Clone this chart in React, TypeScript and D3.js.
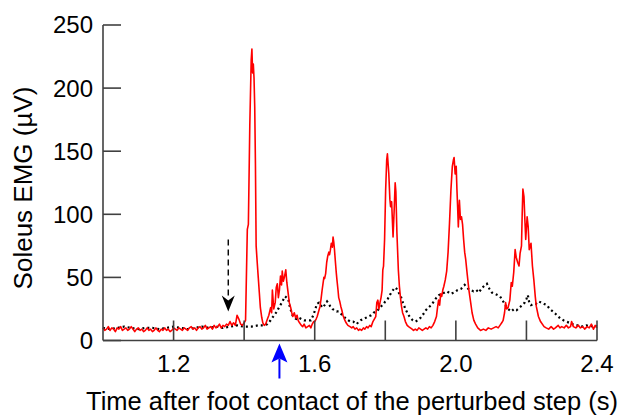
import React from "react";
import * as d3 from "d3";

// ---- Data ----
const redTime = [
  1.000, 1.005, 1.010, 1.015, 1.020, 1.025, 1.030, 1.035, 1.040, 1.045, 1.050, 1.055, 1.060, 1.065, 1.070, 1.075, 1.080, 1.085, 1.090, 1.095,
  1.100, 1.105, 1.110, 1.115, 1.120, 1.125, 1.130, 1.135, 1.140, 1.145, 1.150, 1.155, 1.160, 1.165, 1.170, 1.175, 1.180, 1.185, 1.190, 1.195,
  1.200, 1.205, 1.210, 1.215, 1.220, 1.225, 1.230, 1.235, 1.240, 1.245, 1.250, 1.255, 1.260, 1.265, 1.270, 1.275, 1.280, 1.285, 1.290, 1.295,
  1.300, 1.305, 1.310, 1.315, 1.320, 1.325, 1.330, 1.335, 1.340, 1.345, 1.350, 1.355, 1.360, 1.365, 1.370, 1.375, 1.380, 1.385, 1.390, 1.395,
  1.400, 1.404, 1.409, 1.412, 1.416, 1.420, 1.422, 1.424, 1.426, 1.428, 1.430, 1.432, 1.434, 1.437, 1.440, 1.443, 1.446, 1.450, 1.453, 1.457,
  1.461, 1.466, 1.470, 1.475, 1.478, 1.480, 1.484, 1.488, 1.491, 1.494, 1.497, 1.500, 1.503, 1.506, 1.508, 1.511, 1.514, 1.518, 1.521, 1.525,
  1.528, 1.532, 1.535, 1.538, 1.542, 1.546, 1.550, 1.553, 1.557, 1.562, 1.566, 1.570, 1.575, 1.580, 1.585, 1.589, 1.593, 1.597, 1.600,
  1.604, 1.607, 1.611, 1.615, 1.618, 1.621, 1.624, 1.626, 1.628, 1.631, 1.634, 1.637, 1.640, 1.642, 1.644, 1.647, 1.650, 1.652, 1.654, 1.656,
  1.659, 1.661, 1.663, 1.666, 1.668, 1.671, 1.674, 1.677, 1.680, 1.684, 1.689, 1.694, 1.700, 1.705, 1.709, 1.714, 1.719, 1.724, 1.728, 1.733,
  1.738, 1.742, 1.747, 1.751, 1.756, 1.760, 1.765, 1.769, 1.773, 1.776, 1.779, 1.782, 1.785, 1.788, 1.791, 1.793, 1.795, 1.798, 1.801, 1.804,
  1.806, 1.808, 1.810, 1.813, 1.815, 1.818, 1.820, 1.822, 1.825, 1.828, 1.830, 1.833, 1.837, 1.840, 1.843, 1.846, 1.849, 1.853, 1.857, 1.862,
  1.866, 1.871, 1.876, 1.880, 1.885, 1.890, 1.895, 1.900, 1.905, 1.910, 1.915, 1.920, 1.925, 1.930, 1.935, 1.940, 1.945, 1.948, 1.951, 1.954,
  1.957, 1.960, 1.963, 1.966, 1.970, 1.974, 1.978, 1.982, 1.986, 1.990, 1.993, 1.995, 1.998, 2.001, 2.003, 2.005, 2.007, 2.010, 2.013, 2.016,
  2.019, 2.022, 2.025, 2.028, 2.032, 2.037, 2.042, 2.046, 2.051, 2.056, 2.062, 2.070, 2.078, 2.085, 2.092, 2.100, 2.107, 2.114, 2.120, 2.125,
  2.130, 2.134, 2.138, 2.141, 2.144, 2.148, 2.153, 2.157, 2.160, 2.164, 2.168, 2.171, 2.175, 2.179, 2.182, 2.186, 2.188, 2.190, 2.193, 2.196,
  2.198, 2.202, 2.205, 2.208, 2.213, 2.217, 2.221, 2.225, 2.228, 2.234, 2.240, 2.250, 2.256, 2.263, 2.270, 2.277, 2.282, 2.290, 2.295, 2.300,
  2.307, 2.313, 2.319, 2.325, 2.328, 2.333, 2.340, 2.347, 2.353, 2.360, 2.365, 2.372, 2.378, 2.384, 2.390, 2.395, 2.400,
];
const redValue = [
  10, 8, 9, 11, 8, 10, 9, 7, 10, 9, 11, 8, 9, 10, 8, 9, 11, 9, 7, 9,
  10, 8, 9, 7, 8, 10, 8, 9, 7, 8, 10, 8, 7, 9, 8, 10, 8, 9, 7, 8,
  10, 9, 8, 10, 9, 8, 10, 9, 8, 10, 11, 9, 10, 8, 10, 11, 9, 10, 12, 9,
  10, 11, 9, 12, 10, 11, 13, 10, 12, 11, 13, 12, 15, 12, 14, 12, 20, 17, 13, 12,
  14, 16, 88, 92, 170, 222, 231, 212, 219, 208, 185, 140, 75, 62, 50, 38, 26, 18, 14, 12,
  13, 17, 20, 26, 22, 40, 25, 30, 42, 45, 34, 40, 51, 44, 55, 47, 50, 56, 46, 37,
  30, 26, 22, 19, 22, 18, 20, 16, 14, 12, 11, 13, 10, 11, 12, 10, 13, 15, 15,
  17, 19, 23, 27, 33, 40, 46, 50, 49, 53, 62, 67, 70, 68, 71, 77, 74, 82, 78, 72,
  61, 54, 48, 40, 34, 31, 27, 24, 20, 17, 14, 12, 11, 10, 11, 9, 10, 8, 9, 8,
  10, 9, 11, 10, 12, 11, 15, 17, 19, 30, 32, 25, 30, 34, 40, 56, 59, 80, 119, 143,
  148, 140, 132, 112, 106, 110, 96, 82, 102, 125, 118, 85, 56, 43, 34, 27, 22, 19, 15, 12,
  11, 10, 9, 8, 9, 8, 10, 9, 8, 9, 10, 9, 11, 10, 12, 15, 19, 26, 32, 28,
  37, 35, 40, 43, 48, 55, 70, 93, 119, 138, 143, 145, 132, 138, 120, 106, 90, 111, 96, 98,
  92, 80, 70, 64, 53, 40, 30, 22, 16, 13, 10, 8, 9, 8, 10, 9, 10, 11, 10, 12,
  14, 16, 22, 30, 25, 26, 32, 46, 43, 54, 72, 66, 62, 59, 69, 75, 100, 120, 114, 93,
  80, 98, 90, 72, 77, 59, 48, 35, 27, 19, 15, 11, 10, 9, 11, 9, 10, 12, 10, 11,
  10, 12, 10, 11, 15, 11, 10, 12, 10, 11, 9, 11, 10, 13, 9, 12, 10,
];

const blackTime = [
  1.00, 1.02, 1.04, 1.06, 1.08, 1.10, 1.12, 1.14, 1.16, 1.18, 1.20, 1.22, 1.24, 1.26, 1.28, 1.30, 1.32, 1.34, 1.36, 1.38,
  1.40, 1.42, 1.44, 1.457, 1.466, 1.475, 1.485, 1.493, 1.500, 1.507, 1.512, 1.516, 1.520, 1.525, 1.530, 1.537, 1.542, 1.548, 1.555, 1.562,
  1.570, 1.580, 1.589, 1.596, 1.602, 1.606, 1.612, 1.617, 1.622, 1.628, 1.635, 1.640, 1.644, 1.650, 1.656, 1.662, 1.668, 1.675, 1.682, 1.690,
  1.695, 1.702, 1.709, 1.714, 1.719, 1.725, 1.730, 1.737, 1.745, 1.752, 1.760, 1.767, 1.775, 1.782, 1.788, 1.795, 1.800, 1.807, 1.815, 1.822,
  1.827, 1.832, 1.838, 1.844, 1.850, 1.857, 1.864, 1.871, 1.878, 1.885, 1.892, 1.900, 1.908, 1.915, 1.922, 1.930, 1.938, 1.945, 1.952, 1.960,
  1.968, 1.975, 1.985, 1.995, 2.005, 2.015, 2.025, 2.035, 2.042, 2.050, 2.058, 2.065, 2.075, 2.088, 2.095, 2.102, 2.110, 2.118, 2.125, 2.132,
  2.140, 2.148, 2.157, 2.165, 2.172, 2.180, 2.188, 2.195, 2.200, 2.204, 2.208, 2.213, 2.220, 2.227, 2.235, 2.242, 2.250, 2.258, 2.266, 2.275,
  2.283, 2.290, 2.298, 2.305, 2.313, 2.322, 2.330, 2.340, 2.350, 2.360, 2.370, 2.380, 2.390, 2.400,
];
const blackValue = [
  10, 9, 10, 11, 10, 9, 10, 10, 9, 10, 11, 10, 9, 10, 11, 10, 11, 10, 11, 12,
  11, 11, 12, 12, 13, 16, 20, 23, 27, 30, 33, 35, 34, 33, 26, 20, 18, 17, 18, 17,
  16, 16, 16, 20, 25, 29, 30, 28, 26, 28, 31, 29, 27, 25, 24, 23, 23, 21, 19, 17,
  16, 15, 15, 14, 13, 15, 16, 17, 18, 19, 20, 22, 23, 25, 27, 29, 31, 33, 37, 40,
  42, 41, 38, 35, 30, 25, 21, 18, 16, 15, 16, 18, 21, 24, 26, 28, 31, 34, 36, 37,
  38, 39, 37, 38, 40, 41, 44, 41, 40, 39, 40, 38, 42, 45, 41, 38, 37, 36, 35, 32,
  28, 25, 23, 25, 24, 26, 28, 30, 33, 36, 30, 28, 29, 29, 31, 30, 29, 28, 25, 23,
  21, 19, 17, 16, 15, 14, 13, 12, 12, 11, 12, 11, 12, 11,
];

const yTicks = [0, 50, 100, 150, 200, 250];
const xTicks = [1.2, 1.4, 1.6, 1.8, 2.0, 2.2, 2.4];
const xTickLabels = [1.2, 1.6, 2.0, 2.4];
const onsetArrowTime = 1.355;
const perturbArrowTime = 1.5;

const W = 628;
const H = 419;
const FONT = "'Liberation Sans', Arial, Helvetica, sans-serif";

export default function App() {
  const x = d3.scaleLinear().domain([1.0, 2.4]).range([103, 597]);
  const y = d3.scaleLinear().domain([0, 250]).range([340.5, 25]);

  const redPts: [number, number][] = redTime.map((t, i) => [t, redValue[i]]);
  const blackPts: [number, number][] = blackTime.map((t, i) => [t, blackValue[i]]);
  const line = d3
    .line<[number, number]>()
    .x((d) => x(d[0]))
    .y((d) => y(d[1]));

  const axisColor = "#404040";
  const x0 = x(1.0);
  const x1 = x(2.4);
  const yBase = y(0);

  // onset (black dashed) arrow
  const ax = x(onsetArrowTime);
  const aTop = y(80);
  const aTip = y(23);
  const aHead = aTip - 16;

  // perturbation (blue) arrow
  const bx = x(perturbArrowTime);
  const bTip = yBase + 3;
  const bHead = bTip + 19;
  const bEnd = bTip + 35;

  return (
    <svg
      width={W}
      height={H}
      style={{ position: "absolute", left: 0, top: 0, background: "#fff" }}
    >
      <rect x={0} y={0} width={W} height={H} fill="#fff" />
      {/* data */}
      <path
        d={line(blackPts) || ""}
        fill="none"
        stroke="#000"
        strokeWidth={2.2}
        strokeDasharray="2,3"
      />
      <path d={line(redPts) || ""} fill="none" stroke="#ff0000" strokeWidth={1.6} strokeLinejoin="round" />

      {/* axes */}
      <line x1={x0} y1={y(250)} x2={x0} y2={yBase} stroke={axisColor} strokeWidth={1.6} />
      <line x1={x0} y1={yBase} x2={x1} y2={yBase} stroke={axisColor} strokeWidth={1.6} />
      {yTicks.map((v) => (
        <g key={"y" + v}>
          <line x1={x0} x2={x0 + 18} y1={y(v)} y2={y(v)} stroke={axisColor} strokeWidth={1.6} />
          <text
            x={93}
            y={y(v)}
            dy="0.35em"
            textAnchor="end"
            fontFamily={FONT}
            fontSize={24}
            fill="#000"
          >
            {v}
          </text>
        </g>
      ))}
      {xTicks.map((t) => (
        <line
          key={"x" + t}
          x1={x(t)}
          x2={x(t)}
          y1={yBase}
          y2={yBase - 20}
          stroke={axisColor}
          strokeWidth={1.6}
        />
      ))}
      {xTickLabels.map((t) => (
        <text
          key={"xl" + t}
          x={x(t)}
          y={yBase + 31}
          textAnchor="middle"
          fontFamily={FONT}
          fontSize={24}
          fill="#000"
        >
          {t.toFixed(1)}
        </text>
      ))}

      {/* axis titles */}
      <text
        x={352}
        y={410}
        textAnchor="middle"
        fontFamily={FONT}
        fontSize={25.5}
        fill="#000"
      >
        Time after foot contact of the perturbed step (s)
      </text>
      <text
        transform={`translate(32, 188) rotate(-90)`}
        textAnchor="middle"
        fontFamily={FONT}
        fontSize={26}
        fill="#000"
      >
        Soleus EMG (µV)
      </text>

      {/* onset arrow */}
      <line
        x1={ax}
        x2={ax}
        y1={aTop}
        y2={aHead + 4}
        stroke="#000"
        strokeWidth={1.4}
        strokeDasharray="6,4"
      />
      <path
        d={`M${ax},${aTip} L${ax - 6.5},${aHead} L${ax},${aHead + 5} L${ax + 6.5},${aHead} Z`}
        fill="#000"
      />

      {/* perturbation arrow */}
      <line x1={bx} x2={bx} y1={bHead - 4} y2={bEnd} stroke="#0000ff" strokeWidth={2} />
      <path
        d={`M${bx},${bTip} L${bx - 8},${bHead} L${bx},${bHead - 4} L${bx + 8},${bHead} Z`}
        fill="#0000ff"
      />
    </svg>
  );
}
